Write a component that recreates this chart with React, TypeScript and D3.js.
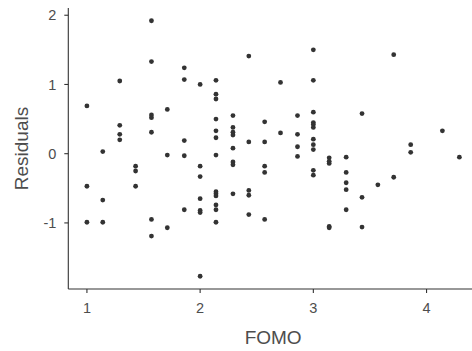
import React from "react";
import * as d3 from "d3";

// FOMO score of each respondent and the model residual for that respondent
const fomo: number[] = [
  1, 1, 1,
  1.14, 1.14, 1.14,
  1.29, 1.29, 1.29, 1.29,
  1.43, 1.43, 1.43,
  1.57, 1.57, 1.57, 1.57, 1.57, 1.57, 1.57,
  1.71, 1.71, 1.71,
  1.86, 1.86, 1.86, 1.86, 1.86,
  2, 2, 2, 2, 2, 2, 2,
  2.14, 2.14, 2.14, 2.14, 2.14, 2.14, 2.14, 2.14, 2.14, 2.14, 2.14, 2.14, 2.14,
  2.29, 2.29, 2.29, 2.29, 2.29, 2.29, 2.29, 2.29,
  2.43, 2.43, 2.43, 2.43, 2.43,
  2.57, 2.57, 2.57, 2.57, 2.57,
  2.71, 2.71,
  2.86, 2.86, 2.86, 2.86,
  3, 3, 3, 3, 3, 3, 3, 3, 3, 3, 3,
  3.14, 3.14, 3.14, 3.14, 3.14,
  3.29, 3.29, 3.29, 3.29, 3.29,
  3.43, 3.43, 3.43,
  3.57,
  3.71, 3.71,
  3.86, 3.86,
  4.14,
  4.29,
];

const residuals: number[] = [
  0.69, -0.47, -0.99,
  0.03, -0.67, -0.99,
  1.05, 0.41, 0.28, 0.2,
  -0.18, -0.25, -0.47,
  1.92, 1.33, 0.56, 0.52, 0.31, -0.95, -1.19,
  0.64, -0.02, -1.07,
  1.24, 1.07, 0.19, -0.03, -0.81,
  1.0, -0.18, -0.33, -0.65, -0.82, -0.85, -1.77,
  1.06, 0.86, 0.79, 0.5, 0.33, 0.23, -0.02, -0.55, -0.58, -0.61, -0.74, -0.81, -0.99,
  0.55, 0.38, 0.31, 0.27, 0.08, -0.12, -0.16, -0.58,
  1.41, 0.17, -0.53, -0.6, -0.88,
  0.46, 0.17, -0.18, -0.27, -0.95,
  1.03, 0.3,
  0.55, 0.28, 0.1, -0.04,
  1.5, 1.06, 0.6, 0.45, 0.42, 0.38, 0.21, 0.13, 0.06, -0.24, -0.31,
  -0.06, -0.11, -0.14, -1.05, -1.07,
  -0.05, -0.27, -0.42, -0.52, -0.81,
  0.58, -0.63, -1.06,
  -0.45,
  1.43, -0.34,
  0.13, 0.02,
  0.33,
  -0.05,
];

const xTicks: number[] = [1, 2, 3, 4];
const yTicks: number[] = [-1, 0, 1, 2];

const WIDTH = 472;
const HEIGHT = 351;
const FONT = "'Liberation Sans', Arial, sans-serif";
const AXIS_COLOR = "#333333";
const TEXT_COLOR = "#4d4d4d";
const POINT_COLOR = "#333333";

export default function App() {
  // panel extent with a 5% expansion around the data range
  const [xMin, xMax] = d3.extent(fomo) as [number, number];
  const [yMin, yMax] = d3.extent(residuals) as [number, number];
  const xPad = (xMax - xMin) * 0.05;
  const yPad = (yMax - yMin) * 0.05;

  const x = d3.scaleLinear().domain([xMin - xPad, xMax + xPad]).range([68.3, 478]);
  const y = d3.scaleLinear().domain([yMin - yPad, yMax + yPad]).range([289, 8]);

  const [x0, x1] = x.range();
  const [yb, yt] = y.range();

  return (
    <svg
      width={WIDTH}
      height={HEIGHT}
      style={{ position: "absolute", left: 0, top: 0, background: "#ffffff" }}
      fontFamily={FONT}
    >
      <rect width={WIDTH} height={HEIGHT} fill="#ffffff" />

      {/* points */}
      <g>
        {fomo.map((f, i) => (
          <circle key={i} cx={x(f)} cy={y(residuals[i])} r={2.4} fill={POINT_COLOR} />
        ))}
      </g>

      {/* y axis */}
      <g>
        <line x1={x0} x2={x0} y1={yt} y2={yb} stroke={AXIS_COLOR} strokeWidth={1.1} />
        {yTicks.map((t) => (
          <g key={t} transform={`translate(0,${y(t)})`}>
            <line x1={x0 - 4} x2={x0} stroke={AXIS_COLOR} strokeWidth={1.1} />
            <text
              x={x0 - 12}
              dy="0.35em"
              textAnchor="end"
              fontSize={14.5}
              fill={TEXT_COLOR}
            >
              {t}
            </text>
          </g>
        ))}
        <text
          transform={`translate(28,${(yt + yb) / 2}) rotate(-90)`}
          textAnchor="middle"
          fontSize={19}
          fill={TEXT_COLOR}
        >
          Residuals
        </text>
      </g>

      {/* x axis */}
      <g>
        <line x1={x0} x2={x1} y1={yb} y2={yb} stroke={AXIS_COLOR} strokeWidth={1.1} />
        {xTicks.map((t) => (
          <g key={t} transform={`translate(${x(t)},0)`}>
            <line y1={yb} y2={yb + 4} stroke={AXIS_COLOR} strokeWidth={1.1} />
            <text y={313} textAnchor="middle" fontSize={14.5} fill={TEXT_COLOR}>
              {t}
            </text>
          </g>
        ))}
        <text x={(x0 + x1) / 2} y={344} textAnchor="middle" fontSize={19} fill={TEXT_COLOR}>
          FOMO
        </text>
      </g>
    </svg>
  );
}
